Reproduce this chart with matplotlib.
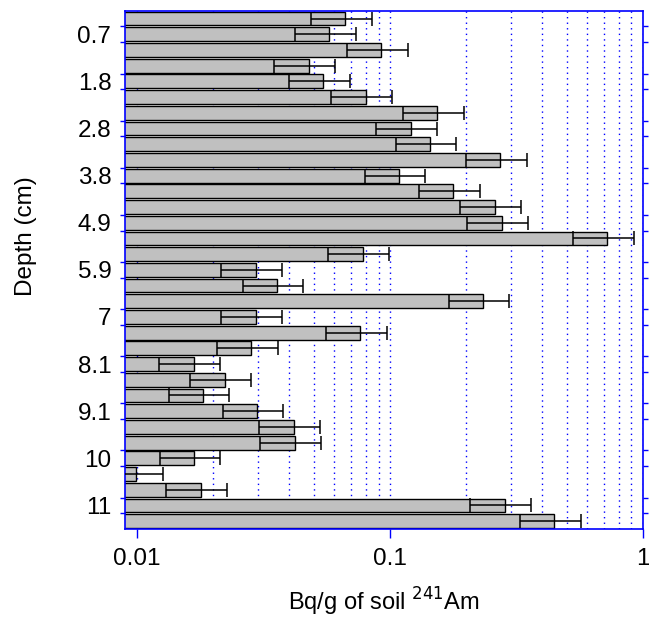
import matplotlib
matplotlib.use("Agg")
import matplotlib.pyplot as plt
from matplotlib.ticker import FixedLocator, NullLocator

plt.rcParams['font.family'] = ['Liberation Sans', 'DejaVu Sans']

# Activity per depth slice (Bq/g), top slice first
activity = [0.0666, 0.0575, 0.0924, 0.0477, 0.0545, 0.0801, 0.1536, 0.1210,
            0.1441, 0.2729, 0.1086, 0.1777, 0.2594, 0.2763, 0.7234, 0.0780,
            0.0294, 0.0357, 0.2335, 0.0294, 0.0763, 0.0283, 0.0167, 0.0222,
            0.0182, 0.0298, 0.0415, 0.0419, 0.0168, 0.0099, 0.0178, 0.2834,
            0.4464]
# Error bar half-widths (Bq/g)
errors = [0.0180, 0.0155, 0.0250, 0.0129, 0.0147, 0.0216, 0.0415, 0.0327,
          0.0389, 0.0737, 0.0293, 0.0480, 0.0700, 0.0746, 0.1953, 0.0211,
          0.0079, 0.0096, 0.0630, 0.0079, 0.0206, 0.0076, 0.0045, 0.0060,
          0.0049, 0.0080, 0.0112, 0.0113, 0.0045, 0.0027, 0.0048, 0.0765,
          0.1205]
# Depth tick labels and the slice index each labels
depth_labels = ['0.7', '1.8', '2.8', '3.8', '4.9', '5.9', '7', '8.1', '9.1', '10', '11']
label_slices = [1, 4, 7, 10, 13, 16, 19, 22, 25, 28, 31]

x_ticks = [0.01, 0.1, 1]
x_ticklabels = ['0.01', '0.1', '1']

BLUE = '#0000ff'

fig = plt.figure(figsize=(6.49, 6.19), dpi=100)
ax = fig.add_axes([0.193, 0.1454, 0.7978, 0.8373])

ax.set_xscale('log')
ax.set_xlim(0.00897, 1.0)
n = len(activity)
pos = list(range(n))
ax.set_ylim(n - 0.5, -0.5)

# grid lines at every log tick (behind bars)
grid_vals = [m * 10.0 ** e for e in (-2, -1) for m in range(1, 10)] + [1.0]
for g in grid_vals:
    ax.axvline(g, color=BLUE, lw=1.0, linestyle=(0, (1, 3)), zorder=0.5)

ax.barh(pos, [a - 0.001 for a in activity], left=0.001, height=0.88,
        color='#c0c0c0', edgecolor='black', linewidth=1.0, zorder=2)
ax.errorbar(activity, pos, xerr=errors, fmt='none', ecolor='black',
            elinewidth=1.1, capsize=4.8, capthick=1.1, zorder=3)

# x axis
ax.xaxis.set_major_locator(FixedLocator(x_ticks))
ax.set_xticklabels(x_ticklabels)
ax.xaxis.set_minor_locator(NullLocator())
ax.tick_params(axis='x', which='major', direction='out', length=6.5,
               width=1.0, color=BLUE, labelsize=17.5, pad=7)

# y axis
ax.set_yticks(label_slices)
ax.set_yticklabels(depth_labels)
edges = []
for s in label_slices:
    edges += [s - 0.5, s + 0.5]
ax.yaxis.set_minor_locator(FixedLocator(edges))
ax.tick_params(axis='y', which='major', length=0, labelsize=17.5, pad=10)
ax.tick_params(axis='y', which='minor', direction='out', length=3.5,
               width=1.0, color=BLUE, left=True, right=True)

for sp in ax.spines.values():
    sp.set_color(BLUE)
    sp.set_linewidth(1.2)

ax.set_ylabel('Depth (cm)', fontsize=17.5, va='center')
ax.yaxis.set_label_coords(-0.192, 0.565)
ax.set_xlabel('Bq/g of soil $^{241}$Am', fontsize=17, va='center')
ax.xaxis.set_label_coords(0.5, -0.141)

fig.savefig('out.png', dpi=100)
